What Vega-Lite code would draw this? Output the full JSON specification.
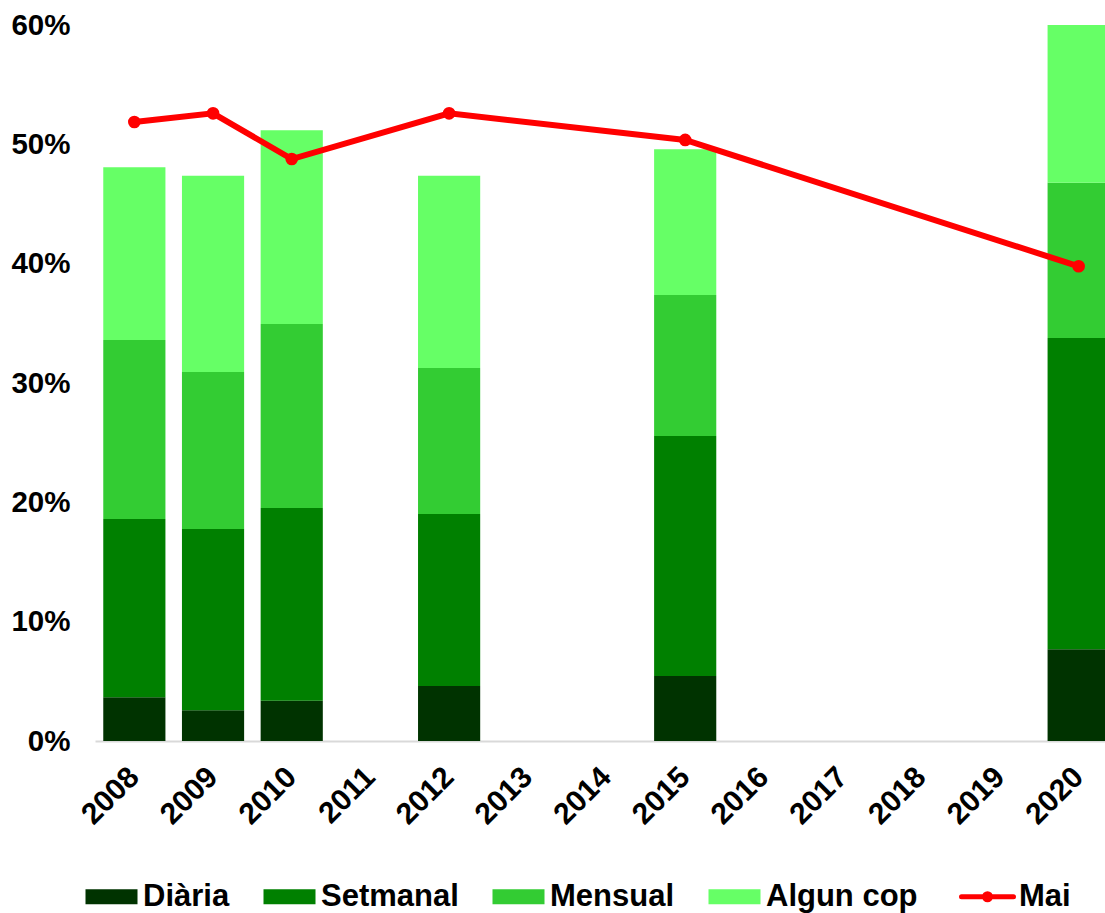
{
  "$schema": "https://vega.github.io/schema/vega-lite/v6.json",
  "autosize": {"type": "none"},
  "padding": {"left": 95, "top": 25, "right": 0, "bottom": 172},
  "width": 1010,
  "height": 716,
  "background": "white",
  "config": {
    "view": {"stroke": null},
    "font": "Liberation Sans"
  },
  "datasets": {
    "bars": [
      {"year": "2008", "serie": "Diària", "value": 0.0366},
      {"year": "2008", "serie": "Setmanal", "value": 0.1494},
      {"year": "2008", "serie": "Mensual", "value": 0.1500},
      {"year": "2008", "serie": "Algun cop", "value": 0.1447},
      {"year": "2009", "serie": "Diària", "value": 0.0257},
      {"year": "2009", "serie": "Setmanal", "value": 0.1520},
      {"year": "2009", "serie": "Mensual", "value": 0.1315},
      {"year": "2009", "serie": "Algun cop", "value": 0.1645},
      {"year": "2010", "serie": "Diària", "value": 0.0338},
      {"year": "2010", "serie": "Setmanal", "value": 0.1615},
      {"year": "2010", "serie": "Mensual", "value": 0.1542},
      {"year": "2010", "serie": "Algun cop", "value": 0.1623},
      {"year": "2012", "serie": "Diària", "value": 0.0461},
      {"year": "2012", "serie": "Setmanal", "value": 0.1441},
      {"year": "2012", "serie": "Mensual", "value": 0.1224},
      {"year": "2012", "serie": "Algun cop", "value": 0.1611},
      {"year": "2015", "serie": "Diària", "value": 0.0545},
      {"year": "2015", "serie": "Setmanal", "value": 0.2011},
      {"year": "2015", "serie": "Mensual", "value": 0.1182},
      {"year": "2015", "serie": "Algun cop", "value": 0.1221},
      {"year": "2020", "serie": "Diària", "value": 0.0768},
      {"year": "2020", "serie": "Setmanal", "value": 0.2609},
      {"year": "2020", "serie": "Mensual", "value": 0.1302},
      {"year": "2020", "serie": "Algun cop", "value": 0.1321}
    ],
    "mai": [
      {"year": "2008", "serie": "Mai", "value": 0.5187},
      {"year": "2009", "serie": "Mai", "value": 0.5260},
      {"year": "2010", "serie": "Mai", "value": 0.4877},
      {"year": "2012", "serie": "Mai", "value": 0.5260},
      {"year": "2015", "serie": "Mai", "value": 0.5037},
      {"year": "2020", "serie": "Mai", "value": 0.3978}
    ]
  },
  "layer": [
    {
      "data": {"name": "bars"},
      "transform": [
        {"calculate": "indexof(['Diària','Setmanal','Mensual','Algun cop'], datum.serie)", "as": "ord"}
      ],
      "mark": {"type": "bar"},
      "encoding": {
        "x": {
          "field": "year", "type": "ordinal",
          "scale": {
            "domain": ["2008","2009","2010","2011","2012","2013","2014","2015","2016","2017","2018","2019","2020"],
            "range": [0, 1023],
            "paddingInner": 0.21,
            "paddingOuter": 0.105
          },
          "axis": {
            "title": null,
            "labelAngle": -45,
            "labelAlign": "right",
            "labelBaseline": "middle",
            "labelFontSize": 30,
            "labelFontWeight": "bold",
            "labelColor": "black",
            "labelPadding": 31,
            "ticks": false,
            "domainColor": "#d9d9d9",
            "domainWidth": 2,
            "grid": false
          }
        },
        "y": {
          "field": "value", "type": "quantitative", "stack": "zero",
          "scale": {"domain": [0, 0.6], "nice": false},
          "axis": {
            "title": null,
            "values": [0, 0.1, 0.2, 0.3, 0.4, 0.5, 0.6],
            "format": ".0%",
            "labelFontSize": 29.5,
            "labelFontWeight": "bold",
            "labelColor": "black",
            "labelPadding": 25,
            "ticks": false,
            "domain": false,
            "grid": false
          }
        },
        "order": {"field": "ord", "type": "quantitative"},
        "color": {
          "field": "serie", "type": "nominal",
          "scale": {
            "domain": ["Diària", "Setmanal", "Mensual", "Algun cop", "Mai"],
            "range": ["#003300", "#008000", "#33cc33", "#66ff66", "#ff0000"]
          },
          "legend": {
            "title": null,
            "orient": "none",
            "direction": "horizontal",
            "legendX": 1,
            "legendY": 856,
            "labelFontSize": 31,
            "labelFontWeight": "bold",
            "labelColor": "black",
            "labelLimit": 400,
            "labelOffset": 16,
            "columnPadding": 33,
            "symbolSize": 2704,
            "symbolOpacity": 1,
            "encode": {
              "symbols": {
                "update": {
                  "shape": {"signal": "datum.value === 'Mai' ? 'M-1,0H1M0.115,0A0.115,0.115,0,1,1,-0.115,0A0.115,0.115,0,1,1,0.115,0Z' : 'M-1,-0.29H1V0.29H-1Z'"},
                  "fill": {"scale": "color", "field": "value"},
                  "stroke": {"scale": "color", "field": "value"},
                  "strokeWidth": {"signal": "datum.value === 'Mai' ? 5 : 0"},
                  "strokeCap": {"value": "round"},
                  "opacity": {"value": 1}
                }
              }
            }
          }
        }
      }
    },
    {
      "data": {"name": "mai"},
      "mark": {
        "type": "line",
        "color": "#ff0000",
        "strokeWidth": 6,
        "point": {"filled": true, "size": 160, "color": "#ff0000"}
      },
      "encoding": {
        "x": {"field": "year", "type": "ordinal"},
        "y": {"field": "value", "type": "quantitative"}
      }
    }
  ]
}
